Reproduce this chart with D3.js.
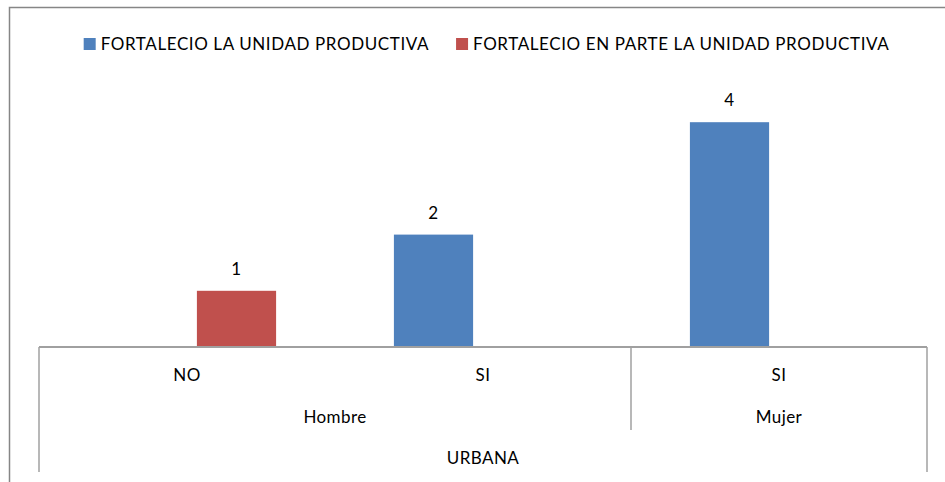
<!DOCTYPE html>
<html lang="es">
<head>
  <meta charset="UTF-8">
  <title>Fortalecio la unidad productiva</title>
  <script src="https://d3js.org/d3.v7.min.js"></script>
  <style>
    body { margin: 0; background: #fff; }
    svg { display: block; font-family: Lato, "Open Sans", sans-serif; }
    .lbl { font-size: 17px; fill: #000; letter-spacing: 0.4px; }
    .leg { letter-spacing: 0.6px; }
  </style>
</head>
<body>
  <svg width="945" height="482"></svg>
  <script>
    // categories (level 1 / level 2 / level 3)
    const cats = ["NO", "SI", "SI"];
    const sexo = ["Hombre", "Hombre", "Mujer"];
    const zona = ["URBANA", "URBANA", "URBANA"];
    const seriesNames = ["FORTALECIO LA UNIDAD PRODUCTIVA", "FORTALECIO EN PARTE LA UNIDAD PRODUCTIVA"];
    const fortalecio = [null, 2, 4];
    const enParte = [1, null, null];
    const colors = ["#4f81bd", "#c0504d"];

    const svg = d3.select("svg");
    const plot = {left: 39, right: 927, top: 66, bottom: 347};

    // outer chart border (cropped at right/bottom)
    svg.append("path")
      .attr("d", "M9.5,482 V7.5 H945")
      .attr("fill", "none").attr("stroke", "#868686").attr("stroke-width", 1.5);

    const ids = cats.map((c, i) => i);
    const x0 = d3.scaleBand().domain(ids).range([plot.left, plot.right]);
    const x1 = d3.scaleBand().domain([0, 1]).range([0, x0.bandwidth()])
      .paddingInner(0.2).paddingOuter(0.595);
    const y = d3.scaleLinear().domain([0, 5]).range([plot.bottom, plot.top]);

    const rows = [];
    [fortalecio, enParte].forEach((vals, s) => vals.forEach((v, i) => {
      if (v != null) rows.push({i, s, v});
    }));

    svg.append("g").selectAll("rect").data(rows).join("rect")
      .attr("x", d => x0(d.i) + x1(d.s))
      .attr("y", d => y(d.v))
      .attr("width", x1.bandwidth())
      .attr("height", d => y(0) - y(d.v))
      .attr("fill", d => colors[d.s]);

    svg.append("g").selectAll("text").data(rows).join("text")
      .attr("class", "lbl")
      .attr("x", d => x0(d.i) + x1(d.s) + x1.bandwidth() / 2)
      .attr("y", d => y(d.v) - 16)
      .attr("text-anchor", "middle")
      .text(d => d.v);

    // multi-level category axis
    const ax = svg.append("g").attr("stroke", "#a0a0a0").attr("stroke-width", 1.5);
    ax.append("line").attr("x1", plot.left).attr("x2", plot.right)
      .attr("y1", plot.bottom).attr("y2", plot.bottom).attr("stroke-width", 2);
    const levelY = [plot.bottom, 390, 430, 472];
    // outer edges
    [plot.left, plot.right].forEach(xx => ax.append("line")
      .attr("x1", xx).attr("x2", xx).attr("y1", plot.bottom).attr("y2", levelY[3]));
    // boundaries between level-2 groups
    for (let i = 1; i < ids.length; i++) {
      if (sexo[i] !== sexo[i - 1]) {
        const xx = x0(ids[i]);
        ax.append("line").attr("x1", xx).attr("x2", xx)
          .attr("y1", plot.bottom).attr("y2", levelY[2]);
      }
    }

    function groups(arr) {
      const out = [];
      arr.forEach((g, i) => {
        if (out.length && out[out.length - 1].name === g) out[out.length - 1].end = i;
        else out.push({name: g, start: i, end: i});
      });
      return out;
    }
    const labelRows = [
      {data: groups(cats.map((c, i) => c + "|" + i)), y: 381},
      {data: groups(sexo), y: 423},
      {data: groups(zona), y: 464}
    ];
    labelRows.forEach(r => {
      svg.append("g").selectAll("text").data(r.data).join("text")
        .attr("class", "lbl")
        .attr("x", d => (x0(ids[d.start]) + x0(ids[d.end]) + x0.bandwidth()) / 2)
        .attr("y", r.y)
        .attr("text-anchor", "middle")
        .text(d => d.name.split("|")[0]);
    });

    // legend
    const leg = svg.append("g");
    const items = seriesNames.map((n, s) => {
      const g = leg.append("g");
      g.append("rect").attr("width", 12).attr("height", 12).attr("y", 38).attr("fill", colors[s]);
      g.append("text").attr("class", "lbl leg").attr("x", 17).attr("y", 50).text(n);
      return g;
    });
    let widths = items.map(g => g.node().getBBox().width);
    const gap = 27;
    const total = d3.sum(widths) + gap * (items.length - 1);
    let cx = 486.5 - total / 2;
    items.forEach((g, s) => {
      g.attr("transform", `translate(${cx},0)`);
      cx += widths[s] + gap;
    });
  </script>
</body>
</html>
